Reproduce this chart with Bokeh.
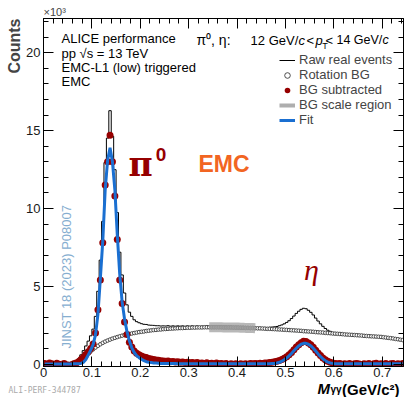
import math
from bokeh.plotting import figure
from bokeh.models import (ColumnDataSource, LinearAxis, SingleIntervalTicker, Range1d,
                          Label, Legend, LegendItem, Title)
from bokeh.embed import file_html
from bokeh.resources import INLINE

# ---------------- data (counts in units of 10^3) ----------------
n_bins = 149
mass = [round(0.0025 + 0.005 * i, 4) for i in range(n_bins)]  # bin centres, GeV/c^2

raw_real = [
    0, 0, 0, 0, 0, 0, 0, 0, 0, 0,
    0.0, 0.0, 0.1, 0.21, 0.35, 0.6, 0.87, 1.17, 1.48, 1.82,
    2.25, 3.07, 4.68, 6.68, 9.17, 12.95, 14.52, 16.28, 14.64, 12.49,
    9.74, 7.19, 5.73, 4.57, 3.81, 3.34, 3.07, 2.85, 2.73, 2.66,
    2.6, 2.56, 2.55, 2.51, 2.5, 2.49, 2.47, 2.47, 2.45, 2.46,
    2.45, 2.47, 2.44, 2.46, 2.44, 2.46, 2.44, 2.46, 2.43, 2.46,
    2.43, 2.46, 2.42, 2.46, 2.42, 2.44, 2.42, 2.46, 2.41, 2.43,
    2.40, 2.44, 2.39, 2.42, 2.37, 2.40, 2.34, 2.39, 2.35, 2.37,
    2.32, 2.36, 2.33, 2.36, 2.33, 2.36, 2.34, 2.36, 2.33, 2.36,
    2.34, 2.36, 2.34, 2.37, 2.38, 2.4, 2.42, 2.47, 2.52, 2.59,
    2.68, 2.79, 2.93, 3.09, 3.26, 3.40, 3.52, 3.59, 3.56, 3.46,
    3.33, 3.16, 2.96, 2.77, 2.59, 2.43, 2.29, 2.18, 2.11, 2.04,
    2.0, 1.97, 1.99, 1.92, 1.94, 1.9, 1.93, 1.86, 1.89, 1.91,
    1.86, 1.81, 1.85, 1.81, 1.84, 1.77, 1.8, 1.83, 1.75, 1.78,
    1.73, 1.75, 1.66, 1.69, 1.7, 1.6, 1.63, 1.57, 1.59,
]

rotation_bg = [
    0, 0, 0, 0, 0, 0, 0, 0, 0, 0.01,
    0.02, 0.04, 0.08, 0.13, 0.2, 0.3, 0.42, 0.55, 0.68, 0.82,
    0.95, 1.07, 1.18, 1.28, 1.37, 1.45, 1.52, 1.58, 1.64, 1.69,
    1.74, 1.79, 1.83, 1.87, 1.91, 1.94, 1.97, 2.0, 2.03, 2.06,
    2.08, 2.1, 2.13, 2.15, 2.17, 2.19, 2.2, 2.22, 2.23, 2.25,
    2.26, 2.27, 2.28, 2.29, 2.3, 2.31, 2.32, 2.32, 2.33, 2.34,
    2.34, 2.35, 2.35, 2.36, 2.36, 2.36, 2.37, 2.37, 2.37, 2.37,
    2.37, 2.37, 2.37, 2.37, 2.36, 2.36, 2.36, 2.36, 2.35, 2.35,
    2.35, 2.34, 2.34, 2.33, 2.33, 2.32, 2.32, 2.31, 2.3, 2.3,
    2.29, 2.28, 2.27, 2.27, 2.26, 2.25, 2.24, 2.23, 2.22, 2.21,
    2.2, 2.19, 2.18, 2.17, 2.16, 2.15, 2.14, 2.12, 2.11, 2.1,
    2.09, 2.08, 2.06, 2.05, 2.04, 2.03, 2.01, 2.0, 1.99, 1.97,
    1.96, 1.95, 1.94, 1.93, 1.91, 1.9, 1.89, 1.88, 1.87, 1.86,
    1.85, 1.84, 1.82, 1.81, 1.8, 1.79, 1.78, 1.77, 1.76, 1.75,
    1.73, 1.71, 1.69, 1.67, 1.65, 1.62, 1.6, 1.57, 1.55,
]

bg_subtracted = [
    0.05, -0.02, 0.08, 0.03, -0.05, 0.06, 0.0, -0.08, 0.04, -0.03,
    -0.1, -0.06, 0.02, 0.08, 0.15, 0.3, 0.45, 0.62, 0.8, 1.0,
    1.3, 2.0, 3.5, 5.4, 7.8, 11.5, 13.0, 14.7, 13.0, 10.8,
    8.0, 5.4, 3.9, 2.7, 1.9, 1.4, 1.1, 0.85, 0.7, 0.6,
    0.52, 0.46, 0.42, 0.36, 0.33, 0.3, 0.27, 0.25, 0.22, 0.21,
    0.19, 0.2, 0.16, 0.17, 0.14, 0.15, 0.12, 0.14, 0.1, 0.12,
    0.09, 0.11, 0.07, 0.1, 0.06, 0.08, 0.05, 0.09, 0.04, 0.06,
    0.03, 0.07, 0.02, 0.05, 0.01, 0.04, -0.02, 0.03, 0.0, 0.02,
    -0.03, 0.02, -0.01, 0.03, 0.0, 0.04, 0.02, 0.05, 0.03, 0.06,
    0.05, 0.08, 0.07, 0.1, 0.12, 0.15, 0.18, 0.24, 0.3, 0.38,
    0.48, 0.6, 0.75, 0.92, 1.1, 1.25, 1.38, 1.47, 1.45, 1.36,
    1.24, 1.08, 0.9, 0.72, 0.55, 0.4, 0.28, 0.18, 0.12, 0.07,
    0.04, 0.02, 0.05, -0.01, 0.03, 0.0, 0.04, -0.02, 0.02, 0.05,
    0.01, -0.03, 0.03, 0.0, 0.04, -0.02, 0.02, 0.06, -0.01, 0.03,
    0.0, 0.04, -0.03, 0.02, 0.05, -0.02, 0.03, 0.0, 0.04,
]

fit_curve = [
    0.01, 0.01, 0.01, 0.01, 0.01, 0.01, 0.01, 0.01, 0.01, 0.01,
    0.01, 0.01, 0.02, 0.02, 0.03, 0.05, 0.12, 0.3, 0.6, 0.9,
    1.25, 1.9, 3.2, 5.5, 7.9, 11.2, 13.1, 13.9, 13.0, 11.2,
    8.3, 5.8, 4.0, 2.9, 2.1, 1.5, 1.05, 0.75, 0.55, 0.42,
    0.32, 0.23, 0.16, 0.12, 0.1, 0.08, 0.07, 0.06, 0.05, 0.05,
    0.045, 0.04, 0.04, 0.035, 0.035, 0.03, 0.03, 0.03, 0.03, 0.03,
    0.03, 0.03, 0.03, 0.03, 0.03, 0.03, 0.03, 0.03, 0.03, 0.03,
    0.03, 0.03, 0.03, 0.03, 0.03, 0.03, 0.03, 0.03, 0.03, 0.03,
    0.03, 0.03, 0.03, 0.03, 0.03, 0.03, 0.03, 0.03, 0.03, 0.03,
    0.03, 0.03, 0.03, 0.03, 0.04, 0.05, 0.08, 0.12, 0.19, 0.28,
    0.39, 0.53, 0.69, 0.86, 1.02, 1.17, 1.28, 1.34, 1.34, 1.28,
    1.17, 1.02, 0.84, 0.66, 0.49, 0.34, 0.22, 0.13, 0.08, 0.05,
    0.03, 0.03, 0.03, 0.03, 0.03, 0.03, 0.03, 0.03, 0.03, 0.03,
    0.03, 0.03, 0.03, 0.03, 0.03, 0.03, 0.03, 0.03, 0.03, 0.03,
    0.03, 0.03, 0.03, 0.03, 0.03, 0.03, 0.03, 0.03, 0.03,
]

bg_scale_lo, bg_scale_hi = 0.34, 0.44

FONT = "Liberation Sans"
DARK_RED = "#960000"
FIT_BLUE = "#1a6fd1"

src = ColumnDataSource(dict(m=mass, raw=raw_real, rot=rotation_bg,
                            sub=bg_subtracted, fit=fit_curve))
scale_idx = [i for i, m in enumerate(mass) if bg_scale_lo <= m <= bg_scale_hi]
src_scale = ColumnDataSource(dict(m=[mass[i] for i in scale_idx],
                                  rot=[rotation_bg[i] for i in scale_idx]))

p = figure(width=405, height=397, output_backend="svg", toolbar_location=None,
           x_range=Range1d(0, 0.744), y_range=Range1d(-0.15, 22.2),
           x_axis_type=None, y_axis_type=None,
           min_border_left=43, min_border_right=2, min_border_top=18, min_border_bottom=31)
p.xgrid.visible = False
p.ygrid.visible = False
p.outline_line_color = "black"
p.outline_line_width = 1
p.background_fill_color = "white"
p.border_fill_color = "white"


def style_axis(ax, labels=True, standoff=3):
    ax.major_tick_in = 10
    ax.major_tick_out = 0
    ax.minor_tick_in = 5
    ax.minor_tick_out = 0
    ax.axis_line_color = "black"
    ax.major_tick_line_color = "black"
    ax.minor_tick_line_color = "black"
    ax.major_label_text_font = FONT
    ax.major_label_text_color = "#1a1a1a"
    if labels:
        ax.major_label_text_font_size = "13px"
        ax.major_label_standoff = standoff
    else:
        ax.major_label_text_font_size = "0px"
        ax.major_label_standoff = 0


for loc in ("below", "above"):
    ax = LinearAxis(ticker=SingleIntervalTicker(interval=0.1, num_minor_ticks=5))
    style_axis(ax, labels=(loc == "below"), standoff=1)
    if loc == "below":
        ax.major_label_overrides = {0: "0"}
    p.add_layout(ax, loc)
for loc in ("left", "right"):
    ax = LinearAxis(ticker=SingleIntervalTicker(interval=5, num_minor_ticks=5))
    style_axis(ax, labels=(loc == "left"), standoff=3)
    p.add_layout(ax, loc)

# ---------------- outside texts (titles in the side panels) ----------------
p.add_layout(Title(text="Counts", align="right", text_font=FONT, text_font_size="16px",
                   text_font_style="bold", standoff=2), "left")
p.add_layout(Title(text="\u00D710\u00B3", align="left", text_font=FONT, text_font_size="11px",
                   text_font_style="normal", standoff=1), "above")

# spacer row below the tick labels
p.add_layout(Title(text=" ", text_font=FONT, text_font_size="5px", standoff=0), "below")


def flat_title(text, size, align, offset, vertical="middle", style="bold", font=FONT,
               color="black", h_guess=None):
    if h_guess is None:
        h_guess = round(1.1 * size)
    p.add_layout(Title(text=text, align=align, offset=offset, vertical_align=vertical,
                       text_font=font, text_font_size=f"{size}px", text_font_style=style,
                       text_color=color, standoff=-(2 + h_guess)), "below")


flat_title("M", 15, "left", 274, style="bold italic")
flat_title("\u03B3\u03B3", 10, "left", 287, vertical="bottom")
flat_title("(GeV/c\u00B2)", 15, "right", 4)
flat_title("ALI-PERF-344787", 8, "left", -35, vertical="bottom", style="normal",
           font="DejaVu Sans Mono", color="#aaaaaa")

# ---------------- glyphs ----------------
r_raw = p.step("m", "raw", source=src, mode="center", line_color="black", line_width=1)
r_rot = p.scatter("m", "rot", source=src, marker="circle", size=3.6, fill_color="white",
                  line_color="#3a3a3a", line_width=0.9)
r_scale_leg = p.line("m", "rot", source=src_scale, line_color="#9a9a9a", line_width=4,
                     line_alpha=0.8)
p.line("m", "rot", source=src_scale, line_color="#9a9a9a", line_width=10, line_alpha=0.7)
r_sub = p.scatter("m", "sub", source=src, marker="circle", size=7, fill_color=DARK_RED,
                  line_color=DARK_RED, line_width=0)
r_fit = p.line("m", "fit", source=src, line_color=FIT_BLUE, line_width=3)

legend = Legend(items=[
    LegendItem(label="Raw real events", renderers=[r_raw]),
    LegendItem(label="Rotation BG", renderers=[r_rot]),
    LegendItem(label="BG subtracted", renderers=[r_sub]),
    LegendItem(label="BG scale region", renderers=[r_scale_leg]),
    LegendItem(label="Fit", renderers=[r_fit]),
], location=(236, 239))
legend.label_text_font = FONT
legend.label_text_font_size = "13px"
legend.glyph_width = 16
legend.glyph_height = 14
legend.label_height = 14
legend.label_standoff = 4
legend.spacing = 0
legend.padding = 0
legend.margin = 0
legend.border_line_color = None
legend.background_fill_alpha = 0
p.add_layout(legend)


def lab(x, y, text, size, **kw):
    opts = dict(text_font=FONT, text_font_size=f"{size}px", text_color="black",
                text_baseline="middle", text_align="left")
    opts.update(kw)
    p.add_layout(Label(x=x, y=y, text=text, **opts))


# header texts
lab(0.0372, 20.92, "ALICE performance", 13)
lab(0.0372, 19.96, "pp  \u221As = 13 TeV", 13)
lab(0.0372, 19.06, "EMC-L1 (low) triggered", 13)
lab(0.0372, 18.16, "EMC", 13)

lab(0.316, 20.79, "\u03C0\u2070, \u03B7:", 14)
lab(0.428, 20.79, "12 GeV/", 13)
lab(0.5269, 20.79, "c", 13, text_font_style="italic")
lab(0.5434, 20.79, "<", 13)
lab(0.562, 20.79, "p", 13, text_font_style="italic")
lab(0.5759, 20.42, "T", 9)
lab(0.5826, 20.79, "<", 13)
lab(0.6054, 20.79, "14 GeV/", 12.5)
lab(0.7004, 20.79, "c", 12.5, text_font_style="italic")

# peak labels
lab(0.1756, 12.83, "\u03C0", 33, text_font="DejaVu Serif", text_font_style="bold",
    text_color=DARK_RED, text_baseline="alphabetic")
lab(0.2320, 13.47, "0", 19, text_font_style="bold", text_color=DARK_RED,
    text_baseline="alphabetic")
lab(0.3202, 12.83, "EMC", 23, text_font_style="bold", text_color="#f26522",
    text_baseline="alphabetic")
lab(0.5537, 6.08, "\u03B7", 30, text_font="Liberation Serif", text_font_style="italic",
    text_color=DARK_RED, text_align="center", text_baseline="alphabetic")

# publication reference
lab(0.0475, 1.0, "JINST 18 (2023)  P08007", 13, angle=math.pi / 2, text_color="#86aed0")

open("out.html", "w").write(file_html(p, INLINE))
